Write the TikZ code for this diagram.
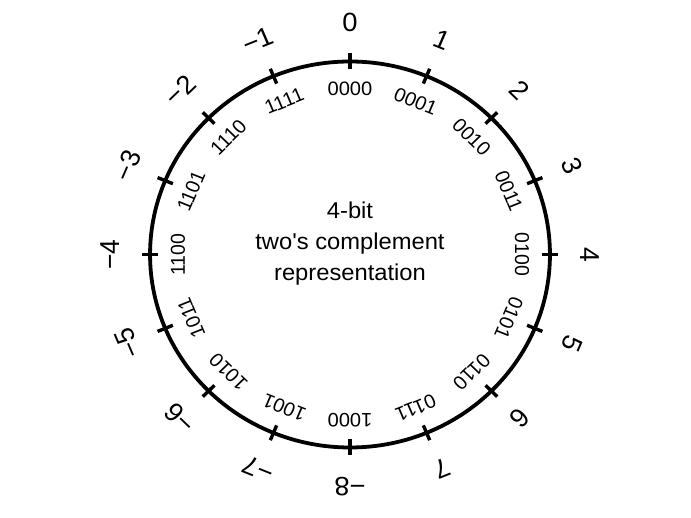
\documentclass[tikz,border=0pt]{standalone}
\usepackage{fontspec}
\setmainfont{Liberation Sans}
\tikzset{
  valuelabel/.style={font=\fontsize{26.5}{30}\selectfont, inner sep=0pt},
  bitslabel/.style={font=\fontsize{19.5}{22}\selectfont, inner sep=0pt},
  tickmark/.style={line width=3.4bp},
}
\begin{document}
\begin{tikzpicture}[x=1bp,y=1bp]
\useasboundingbox (0,0) rectangle (691,518);
\begin{scope}[shift={(350,263.5)}, xscale=1.036, every node/.append style={transform shape}]
  \draw[line width=3.8bp] (0,0) circle (193);
  % one tick, one value and one bit pattern per step of 22.5 degrees
  \foreach \val/\bits [count=\k from 0] in {0/0000,1/0001,2/0010,3/0011,4/0100,5/0101,6/0110,7/0111,
      −8/1000,−7/1001,−6/1010,−5/1011,−4/1100,−3/1101,−2/1110,−1/1111}{
    \pgfmathsetmacro{\ang}{90-22.5*\k}
    \coordinate (tin\k) at (\ang:185);
    \coordinate (tout\k) at (\ang:201);
    \draw[tickmark] (tin\k) -- (tout\k);
    \node[valuelabel, rotate=\ang-90] (val\k) at (\ang:232) {\val};
    \node[bitslabel, rotate=\ang-90] (bits\k) at (\ang:166) {\bits};
  }
  \node[align=center, font=\fontsize{23}{31}\selectfont] (title) at (0,11)
    {4-bit\\two\textquotesingle s complement\\representation};
\end{scope}
\end{tikzpicture}
\end{document}
